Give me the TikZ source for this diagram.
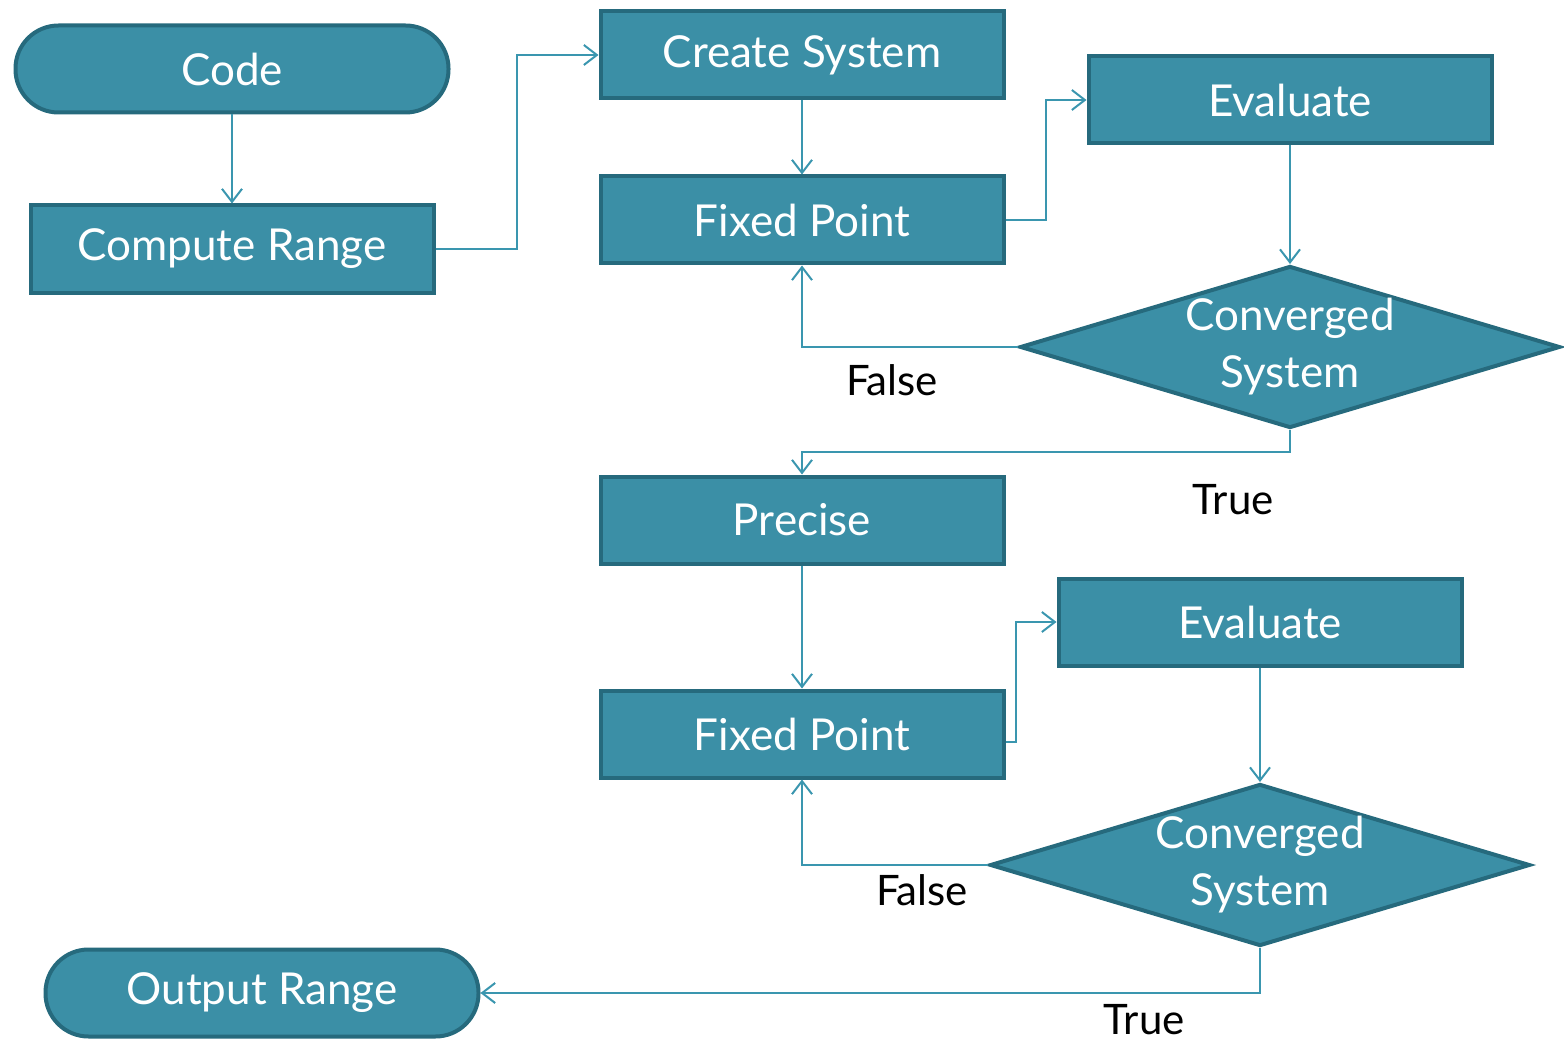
\documentclass[tikz,border=0pt]{standalone}
\usepackage{fontspec}
\setmainfont{Lato}
\usetikzlibrary{arrows.meta,shapes.geometric}
\definecolor{boxfill}{RGB}{59,143,166}
\definecolor{boxline}{RGB}{38,106,125}
\definecolor{wire}{RGB}{58,150,175}

\begin{document}
\begin{tikzpicture}[x=1pt,y=-1pt,->,>={Straight Barb[length=13pt,width=20pt]},
  line width=2pt,draw=wire,
  main node/.style={rectangle,fill=boxfill,draw=boxline,line width=4pt,minimum width=403pt,
    minimum height=87pt,inner sep=0pt,text=white,font=\fontsize{44}{50}\selectfont},
  end node/.style={main node,rounded corners=43pt,minimum width=433pt},
  test node/.style={main node,diamond,aspect=3.3,inner sep=-8pt,minimum width=540pt,
    minimum height=162pt,align=center,font=\fontsize{44}{57}\selectfont},
  label node/.style={font=\fontsize{42}{50}\selectfont}]
  \useasboundingbox (0,0) rectangle (1564,1043);

  \node[end node] (1) at (232,69) {Code};
  \node[main node] (2) at (232,249) {Compute Range};
  \node[main node] (3) at (802,55) {Create System};
  \node[main node] (4) at (802,220) {Fixed Point};
  \node[main node] (5) at (1290,100) {Evaluate};
  \node[test node] (6) at (1290,347) {Converged\\System};
  \node[main node] (7) at (802,520) {Precise};
  \node[main node] (8) at (802,734) {Fixed Point};
  \node[main node] (9) at (1260,622) {Evaluate};
  \node[test node] (10) at (1260,865) {Converged\\System};
  \node[end node] (11) at (262,993) {Output Range};

  \node[label node] (f1) at (892,380) {False};
  \node[label node] (t1) at (1233,500) {True};
  \node[label node] (f2) at (922,890) {False};
  \node[label node] (t2) at (1144,1020) {True};

  \draw (1) -- (2);
  \draw (2.east) -- ++(81,0) |- (3.west);
  \draw (3) -- (4);
  \draw (4.east) -- ++(40,0) |- (5.west);
  \draw (5) -- (6);
  \draw (6.west) -| (4.south);
  \draw (6.south) -- ++(0,22) -| (7.north);
  \draw (7) -- (8);
  \draw ([yshift=-8pt]8.east) -- ++(10,0) |- (9.west);
  \draw (9) -- (10);
  \draw (10.west) -| (8.south);
  \draw (10.south) |- (11.east);
\end{tikzpicture}
\end{document}
